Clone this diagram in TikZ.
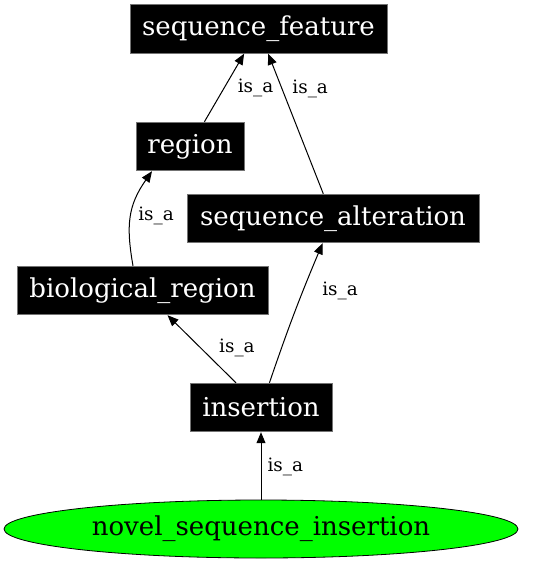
\documentclass[tikz,border=0pt]{standalone}
\usepackage{fontspec}
\setmainfont{DejaVu Serif}
\usetikzlibrary{arrows.meta,shapes.geometric}
\tikzset{
  termbox/.style={rectangle, fill=black, draw=black!55, line width=0.8pt, text=white, inner sep=0pt,
    minimum height=48.6pt, font=\fontsize{26}{30}\selectfont},
  leafnode/.style={ellipse, fill=green, draw=black, line width=0.8pt, text=black, inner sep=0pt,
    minimum width=514pt, minimum height=58pt, font=\fontsize{26}{30}\selectfont},
  isa/.style={draw=black, line width=1pt, -{Triangle[length=11pt,width=9pt]}},
  lbl/.style={font=\fontsize{18.4}{22}\selectfont, inner sep=0pt, anchor=west},
}
\begin{document}
\begin{tikzpicture}[x=1pt,y=1pt]
\useasboundingbox (0,0) rectangle (536,-563);
\node[termbox, minimum width=257pt] (sf) at (258.5,-29) {sequence\_feature};
\node[termbox, minimum width=108pt] (reg) at (190,-146.5) {region};
\node[termbox, minimum width=292pt] (alt) at (333,-218.5) {sequence\_alteration};
\node[termbox, minimum width=251pt] (bio) at (142.5,-290.5) {biological\_region};
\node[termbox, minimum width=142pt] (ins) at (261,-407.5) {insertion};
\node[leafnode] (nsi) at (261,-529) {novel\_sequence\_insertion};

\draw[isa] (reg) -- node[lbl, pos=0.5, xshift=13pt] (l1) {is\_a} (sf);
\draw[isa] (alt) -- node[lbl, pos=0.75, xshift=10pt] (l2) {is\_a} (sf);
\draw[isa] ([xshift=-9.5pt]bio.north) to[out=100, in=235, looseness=1.1]
  node[lbl, pos=0.5, xshift=7pt] (l3) {is\_a} ([xshift=-38pt]reg.south);
\draw[isa] (ins) -- node[lbl, pos=0.515, xshift=18pt] (l4) {is\_a} (bio);
\draw[isa] (ins) to[bend left=2] node[lbl, pos=0.664, xshift=19pt] (l5) {is\_a} (alt);
\draw[isa] (nsi) -- node[lbl, pos=0.485, xshift=6pt] (l6) {is\_a} (ins);
\end{tikzpicture}
\end{document}
